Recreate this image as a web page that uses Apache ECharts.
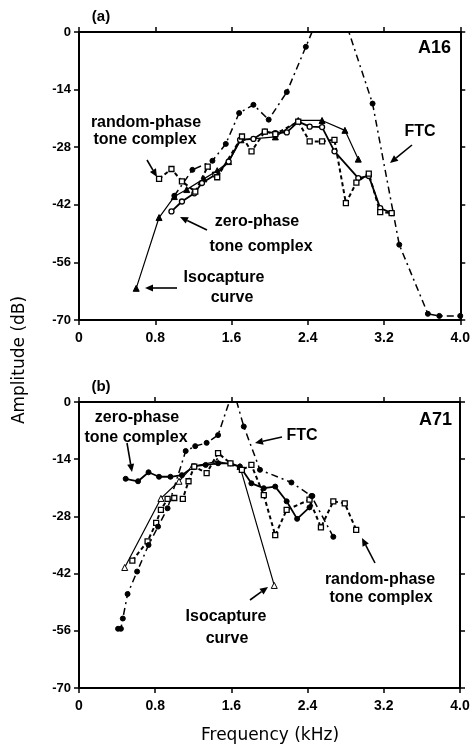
<!DOCTYPE html>
<html>
<head>
<meta charset="utf-8">
<script src="https://cdn.jsdelivr.net/npm/echarts@6/dist/echarts.min.js"></script>
<style>
html,body{margin:0;padding:0;background:#fff;}
#chart{width:473px;height:746px;}
</style>
</head>
<body>
<div id="chart"></div>
<script>
// ---------- DATA (frequency kHz, amplitude dB) ----------
var xTickLabels = ['0','0.8','1.6','2.4','3.2','4.0'];
var yTickLabels = ['-70','-56','-42','-28','-14','0'];

// Panel (a) A16
var isocaptureA = [[0.60,-62.3],[0.84,-45.1],[1.00,-40.0],[1.13,-38.3],[1.31,-35.7],[1.45,-33.7],[1.57,-31.5],[1.70,-26.2],[2.06,-25.5],[2.30,-21.5],[2.55,-21.5],[2.79,-23.9],[2.93,-30.9]];
var zeroPhaseA = [[0.97,-43.6],[1.08,-41.2],[1.21,-39.2],[1.29,-36.7],[1.43,-34.7],[1.57,-31.5],[1.69,-26.2],[1.83,-26.0],[1.95,-24.2],[2.06,-24.6],[2.18,-24.4],[2.30,-21.8],[2.42,-23.0],[2.55,-23.1],[2.68,-29.0],[2.93,-35.5],[3.04,-35.0],[3.16,-42.8],[3.28,-44.0]];
var randomPhaseA = [[0.84,-35.7],[0.97,-33.3],[1.08,-36.3],[1.22,-38.8],[1.35,-32.7],[1.45,-35.3],[1.71,-25.4],[1.81,-29.0],[1.95,-24.2],[2.06,-24.8],[2.30,-21.8],[2.42,-26.6],[2.55,-26.6],[2.68,-26.2],[2.80,-41.6],[2.91,-36.6],[3.04,-34.4],[3.16,-43.8],[3.28,-44.0]];
var ftcA = [[1.00,-39.8],[1.19,-33.5],[1.40,-31.3],[1.54,-27.2],[1.68,-19.7],[1.83,-17.7],[1.99,-21.3],[2.18,-14.6],[2.38,-3.6],[2.66,12],[3.08,-17.4],[3.36,-51.7],[3.66,-68.5],[3.78,-69],[4.00,-69]];

// Panel (b) A71
var isocaptureB = [[0.48,-40.5],[0.86,-23.6],[1.05,-19.4],[1.19,-15.8],[1.45,-14.5],[1.69,-15.8],[2.05,-44.9]];
var zeroPhaseB = [[0.49,-18.8],[0.62,-19.4],[0.73,-17.2],[0.84,-18.3],[0.96,-18.3],[1.08,-17.9],[1.21,-15.7],[1.33,-15.4],[1.46,-15.0],[1.59,-15.0],[1.69,-15.8],[1.81,-19.9],[1.94,-21.1],[2.06,-20.7],[2.18,-24.3],[2.29,-28.6],[2.42,-25.8],[2.45,-23.0]];
var randomPhaseB = [[0.56,-38.8],[0.72,-34.1],[0.81,-29.6],[0.86,-26.4],[0.93,-23.7],[1.00,-23.5],[1.09,-23.7],[1.15,-19.4],[1.21,-15.8],[1.34,-17.4],[1.46,-12.5],[1.59,-15.0],[1.71,-16.6],[1.81,-15.4],[1.94,-22.8],[2.06,-32.6],[2.18,-26.4],[2.42,-23.9],[2.54,-30.7],[2.67,-24.3],[2.79,-24.8],[2.91,-31.3]];
var ftcB = [[0.41,-55.5],[0.44,-55.5],[0.46,-53.0],[0.51,-47.0],[0.61,-41.5],[0.73,-35.0],[0.83,-30.5],[0.93,-26.0],[1.12,-12.0],[1.22,-10.8],[1.34,-10.0],[1.46,-8.1],[1.62,3],[1.73,-6.0],[1.90,-16.6],[2.23,-19.7],[2.44,-23.0],[2.67,-33.0]];

// ---------- CHART ----------
var chart = echarts.init(document.getElementById('chart'), null, {renderer:'canvas'});
var tickFont = {fontFamily:'Liberation Sans, Arial, sans-serif', fontWeight:'bold', fontSize:14, color:'#000'};
var axisLineStyle = {color:'#000', width:2};

function xAx(grid, pos, labels){
  return {type:'value', gridIndex:grid, position:pos, min:0, max:4, interval:0.8,
    axisLine:{show:true, onZero:false, lineStyle:axisLineStyle},
    axisTick:{show:true, length:5, lineStyle:{color:'#000', width:1.5}},
    splitLine:{show:false},
    axisLabel:{show:labels, margin:11, formatter:function(v){return xTickLabels[Math.round(v/0.8)];}, ...tickFont}};
}
function yAx(grid, pos, labels){
  return {type:'value', gridIndex:grid, position:pos, min:-70, max:0, interval:14,
    axisLine:{show:true, onZero:false, lineStyle:axisLineStyle},
    axisTick:{show:true, length:5, lineStyle:{color:'#000', width:1.5}},
    splitLine:{show:false},
    axisLabel:{show:labels, margin:8, formatter:function(v){return yTickLabels[Math.round((v+70)/14)];}, ...tickFont, fontSize:13}};
}

function mk(data, g, kind){
  var s = {type:'line', data:data, xAxisIndex:g*2, yAxisIndex:g*2, clip:true, animation:false, z:3,
    lineStyle:{color:'#000', width:1.3, type:'solid'}, itemStyle:{color:'#000', borderColor:'#000', borderWidth:1}};
  if(kind==='iso'){ s.symbol='triangle'; s.symbolSize=6; s.lineStyle.width=1.2;
    if(g===1){ s.itemStyle.color='#fff'; } }
  if(kind==='zero'){ s.symbol='circle'; s.symbolSize=5; s.lineStyle.width=1.8;
    if(g===0){ s.itemStyle.color='#fff'; s.itemStyle.borderWidth=1.3; } }
  if(kind==='rand'){ s.symbol='rect'; s.symbolSize=5; s.lineStyle.width=2; s.lineStyle.type=[4,3];
    s.itemStyle.color='#fff'; s.itemStyle.borderWidth=1.3; }
  if(kind==='ftc'){ s.symbol='circle'; s.symbolSize=5; s.lineStyle.width=1.5; s.lineStyle.type=[7,4,2,4]; }
  return s;
}

function txt(t, x, y, size, align){
  return {type:'text', z:10, style:{text:t, x:x, y:y, fill:'#000',
    font:'bold '+(size||16)+'px "Liberation Sans", Arial, sans-serif',
    textAlign:align||'center', textVerticalAlign:'middle'}};
}
function arrow(x1,y1,x2,y2){
  var dx=x2-x1, dy=y2-y1, L=Math.sqrt(dx*dx+dy*dy), ux=dx/L, uy=dy/L;
  var hl=8, hw=3.5, bx=x2-ux*hl, by=y2-uy*hl;
  return [
    {type:'line', z:10, shape:{x1:x1,y1:y1,x2:bx,y2:by}, style:{stroke:'#000', lineWidth:1.6}},
    {type:'polygon', z:10, shape:{points:[[x2,y2],[bx-uy*hw,by+ux*hw],[bx+uy*hw,by-ux*hw]]}, style:{fill:'#000'}}
  ];
}

var graphics = [
  txt('(a)',101,17,15), txt('A16',451,48,18,'right'),
  txt('random-phase',146,123), txt('tone complex',145,140),
  txt('zero-phase',257,222), txt('tone complex',261,247),
  txt('Isocapture',224,278), txt('curve',232,298),
  txt('FTC',420,132),
  txt('(b)',101,387,15), txt('A71',452,420,18,'right'),
  txt('zero-phase',137,418), txt('tone complex',136,438),
  txt('FTC',302,436),
  txt('Isocapture',226,617), txt('curve',227,639),
  txt('random-phase',380,580), txt('tone complex',381,598),
  {type:'text', z:10, rotation:Math.PI/2, x:20, y:360,
    style:{text:'Amplitude (dB)', x:0, y:0, fill:'#000', font:'17px "DejaVu Sans", sans-serif', textAlign:'center', textVerticalAlign:'middle'}},
  {type:'text', z:10, style:{text:'Frequency (kHz)', x:270, y:736, fill:'#000', font:'17px "DejaVu Sans", sans-serif', textAlign:'center', textVerticalAlign:'middle'}}
];
graphics = graphics.concat(
  arrow(147,160,157,177), arrow(207,230,180,217), arrow(177,288,145,288), arrow(412,145,390,163),
  arrow(127,443,132,472), arrow(282,437,255,443), arrow(250,600,268,587), arrow(375,563,362,538)
);
// rotate fix: text rotation is counterclockwise positive in zrender; use -PI/2 for bottom-to-top? keep PI/2 reading upward
graphics[18].rotation = Math.PI/2;

chart.setOption({
  backgroundColor:'#fff',
  animation:false,
  grid:[{left:79, top:32, width:382, height:288}, {left:79, top:402, width:381, height:286}],
  xAxis:[xAx(0,'bottom',true), xAx(0,'top',false), xAx(1,'bottom',true), xAx(1,'top',false)],
  yAxis:[yAx(0,'left',true), yAx(0,'right',false), yAx(1,'left',true), yAx(1,'right',false)],
  series:[
    mk(isocaptureA,0,'iso'), mk(zeroPhaseA,0,'zero'), mk(randomPhaseA,0,'rand'), mk(ftcA,0,'ftc'),
    mk(isocaptureB,1,'iso'), mk(zeroPhaseB,1,'zero'), mk(randomPhaseB,1,'rand'), mk(ftcB,1,'ftc')
  ],
  graphic:graphics
});
</script>
</body>
</html>
